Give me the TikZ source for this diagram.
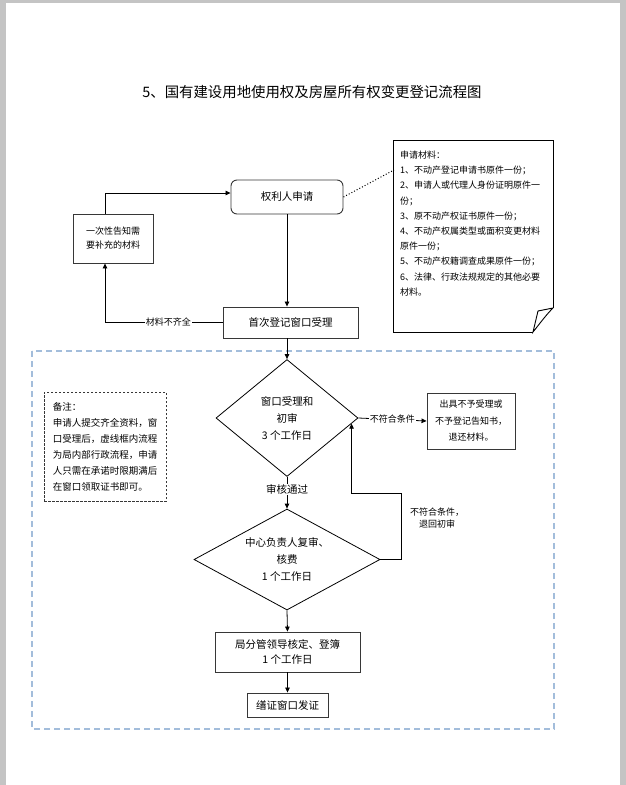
\documentclass[tikz,border=0pt]{standalone}
\usepackage{fontspec}
\setmainfont{Noto Sans CJK SC}
\usetikzlibrary{arrows.meta,shapes.geometric}
\definecolor{PageGray}{RGB}{196,196,196}
\definecolor{FrameBlue}{RGB}{163,189,219}
\definecolor{EdgeGray}{RGB}{55,55,55}
\newcommand{\bodyFont}{\fontsize{10.5}{15}\selectfont}
\newcommand{\smallFont}{\fontsize{9}{14}\selectfont}

\begin{document}
\begin{tikzpicture}[x=1pt,y=-1pt,
    box/.style={draw=EdgeGray,line width=0.9pt,inner sep=0pt,align=center,font=\bodyFont},
    diam/.style={draw=black,line width=0.8pt,diamond,inner sep=0pt,align=center,font=\fontsize{10.5}{17}\selectfont},
    lbl/.style={fill=white,inner sep=1pt,font=\smallFont},
    arr/.style={-{Triangle[length=5pt,width=4.5pt]},line width=0.8pt}]
    % page
    \fill[PageGray] (0,0) rectangle (626,785);
    \fill[white] (5.5,3) rectangle (620,785);
    \useasboundingbox (0,0) rectangle (626,785);
    \node[font=\fontsize{14.4}{16}\selectfont] (title) at (312,92) {5、国有建设用地使用权及房屋所有权变更登记流程图};

    % inner office area
    \draw[FrameBlue,line width=1.8pt,dash pattern=on 6pt off 4pt] (32,351) rectangle (554,729);

    \node[box,rounded corners=6pt,minimum width=112pt,minimum height=34pt] (apply) at (287,197) {权利人申请};
    \node[box,font=\smallFont,minimum width=80pt,minimum height=49pt] (notify) at (113,238.5) {一次性告知需\\要补充的材料};
    \node[box,minimum width=135pt,minimum height=31pt] (first) at (290.5,322.5) {首次登记窗口受理};
    \node[diam,minimum width=142pt,minimum height=117pt,aspect=1.2] (check) at (287,418) {窗口受理和\\初审\\3 个工作日};
    \node[box,font=\fontsize{9}{16.5}\selectfont,minimum width=88pt,minimum height=56pt] (reject) at (471,421) {出具不予受理或\\不予登记告知书，\\退还材料。};
    \node[diam,minimum width=186pt,minimum height=101pt,aspect=1.86] (review) at (287,559.5) {中心负责人复审、\\核费\\1 个工作日};
    \node[box,minimum width=145pt,minimum height=40pt] (approve) at (287.5,652) {局分管领导核定、登簿\\1 个工作日};
    \node[box,minimum width=81pt,minimum height=24pt] (issue) at (287.5,705) {缮证窗口发证};

    % remark
    \node[draw=EdgeGray,line width=0.8pt,dash pattern=on 2.5pt off 1.5pt,inner sep=0pt,minimum width=122pt,minimum height=109pt,align=left,font=\fontsize{9.5}{16}\selectfont] (remark) at (105,446.5) {备注：\\申请人提交齐全资料，窗\\口受理后，虚线框内流程\\为局内部行政流程，申请\\人只需在承诺时限期满后\\在窗口领取证书即可。};

    % material list
    \draw[black,line width=0.9pt] (533,332) -- (393,332) -- (393,140) -- (553,140) -- (553,308);
    \draw[black,line width=0.9pt] (553,308) -- (538,311) -- (533,332) .. controls (541,322) and (546,315) .. (553,308);
    \node[anchor=west,align=left,inner sep=0pt,font=\fontsize{9}{15.2}\selectfont] (materials) at (400,223.5) {申请材料：\\1、不动产登记申请书原件一份；\\2、申请人或代理人身份证明原件一\\份；\\3、原不动产权证书原件一份；\\4、不动产权属类型或面积变更材料\\原件一份；\\5、不动产权籍调查成果原件一份；\\6、法律、行政法规规定的其他必要\\材料。};
    \coordinate (notepin) at (394,170);

    \draw[line width=1pt,dotted] (apply.east) -- (notepin);
    \draw[arr] (apply) -- (apply.south |- first.north);
    \draw[arr] ([xshift=-8pt]notify.north) |- ([yshift=4pt]apply.west);
    \draw[arr] (first.west) -| node[lbl,pos=0.23] {材料不齐全} ([xshift=-8pt]notify.south);
    \draw[arr] (check.north |- first.south) -- (check.north);
    \draw[arr] (check.east) -- node[lbl] {不符合条件} (reject.west);
    \draw[arr] (check.south) -- node[lbl,pos=0.4,font=\bodyFont] {审核通过} (review.north);
    \draw[arr] (review.east) -| ++(21,-66) -| (check.-5.2);
    \node[font=\fontsize{9}{12.5}\selectfont,align=center] (backlbl) at (437,518) {不符合条件，\\退回初审};
    \draw[arr] (review.south) -- (approve.north);
    \draw[arr] (approve.south) -- (issue.north);
\end{tikzpicture}
\end{document}
